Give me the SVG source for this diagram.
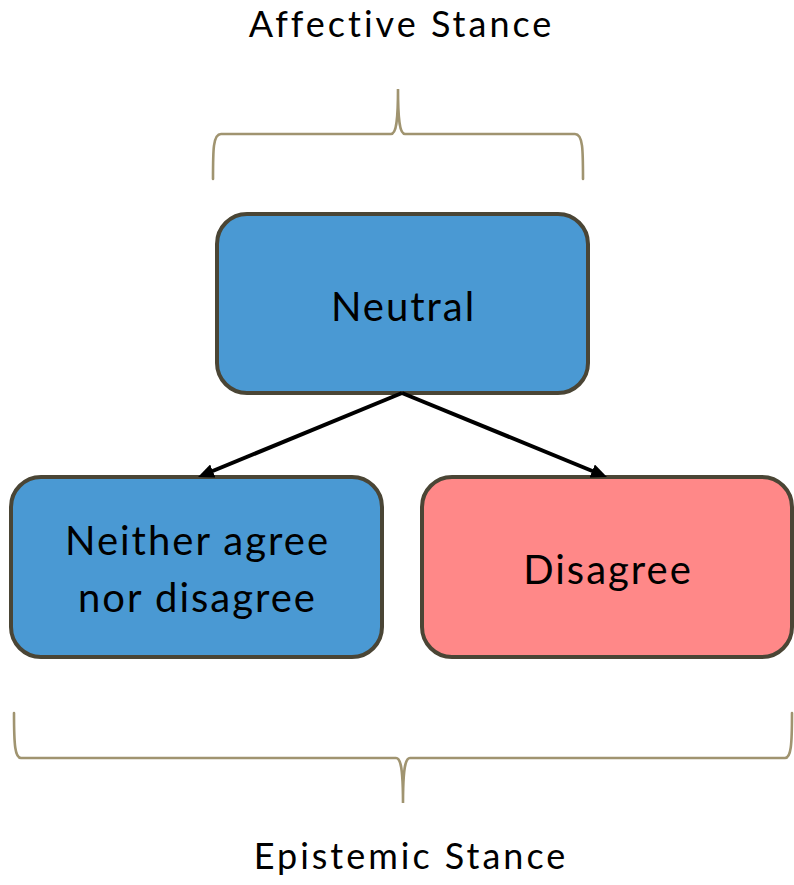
<svg xmlns="http://www.w3.org/2000/svg" width="794" height="885" viewBox="0 0 794 885">
  <style>
    .box { stroke: #4a4535; stroke-width: 4; }
    .blue { fill: #4a99d3; }
    .pink { fill: #ff8888; }
    .label { font-family: Lato, "Liberation Sans", sans-serif; font-size: 40px; letter-spacing: 2px; font-variant-ligatures: none; fill: #000; text-anchor: middle; }
    .title { font-family: Lato, "Liberation Sans", sans-serif; font-size: 36px; letter-spacing: 3px; font-variant-ligatures: none; fill: #000; text-anchor: middle; }
    .brace { fill: none; stroke: #a09470; stroke-width: 2.6; stroke-linecap: round; }
    .edge { fill: none; stroke: #000; stroke-width: 4; }
  </style>
  <defs>
    <marker id="arrow" markerUnits="userSpaceOnUse" markerWidth="16" markerHeight="14" refX="8" refY="7" orient="auto">
      <path d="M0,0 L16,7 L0,14 z" fill="#000"/>
    </marker>
  </defs>

  <rect width="794" height="885" fill="#fff"/>

  <!-- headings -->
  <text class="title" x="401.5" y="37">Affective Stance</text>
  <text class="title" x="411" y="869">Epistemic Stance</text>

  <!-- braces -->
  <path class="brace" d="M213,179 C213,150 213,134 221,134 L391,134 C396,134 398,122 398,89 C398,122 400,134 405,134 L575,134 C583,134 583,150 583,179"/>
  <path class="brace" d="M14,713 C14,745 15,758 21,758 L396,758 C401,758 403,770 403,803 C403,770 405,758 410,758 L785,758 C791,758 792,745 792,713"/>

  <g id="neutral">
    <rect class="box blue" x="217" y="214" width="371" height="179" rx="30"/>
    <text class="label" x="403.5" y="321">Neutral</text>
  </g>

  <g id="neither">
    <rect class="box blue" x="11" y="477" width="371" height="180" rx="30"/>
    <text class="label" x="197.5" y="555">Neither agree</text>
    <text class="label" x="197.5" y="612">nor disagree</text>
  </g>

  <g id="disagree">
    <rect class="box pink" x="422" y="477" width="370" height="180" rx="30"/>
    <text class="label" x="608" y="584">Disagree</text>
  </g>

  <g id="connectors">
    <path class="edge" d="M402,393 L205.4,474" marker-end="url(#arrow)"/>
    <path class="edge" d="M402,393 L599.6,474" marker-end="url(#arrow)"/>
  </g>
</svg>
